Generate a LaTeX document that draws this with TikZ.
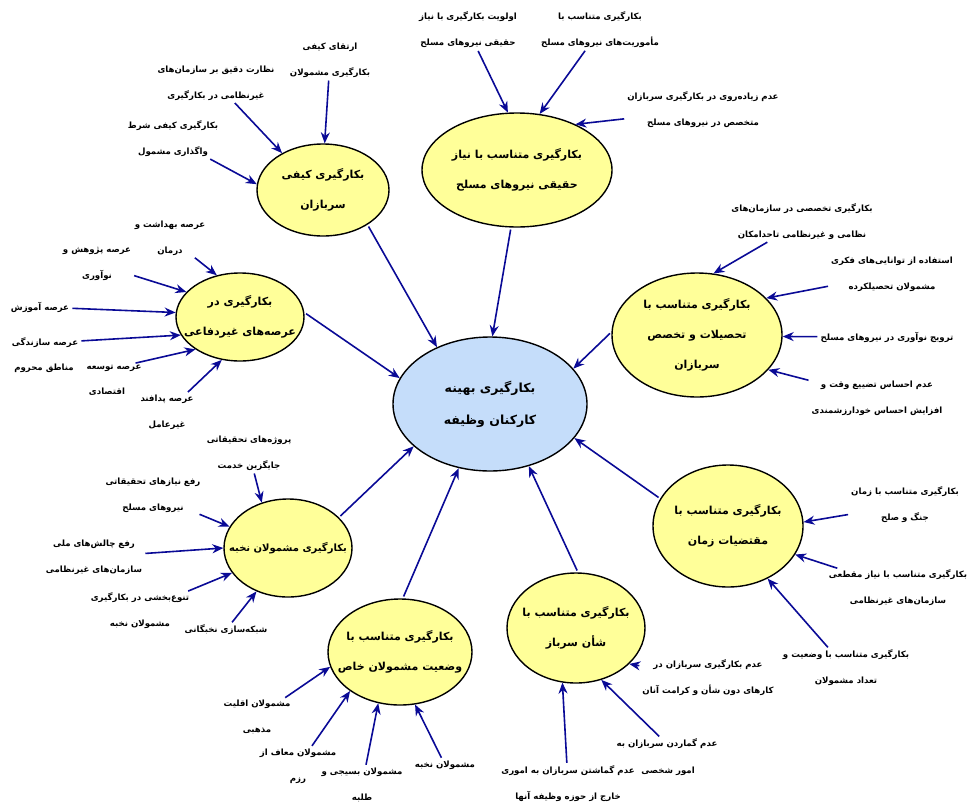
\documentclass[tikz,border=0pt]{standalone}
\usepackage{fontspec}
\usetikzlibrary{arrows.meta,shapes.geometric}
\newfontfamily\arabicfont[Script=Arabic]{DejaVu Sans}
\TeXXeTstate=1
\newcommand{\fa}[1]{\beginR #1\endR}
\definecolor{bubfill}{RGB}{255,255,153}
\definecolor{hubfill}{RGB}{197,221,250}
\definecolor{arrblue}{RGB}{10,10,150}

\begin{document}
\begin{tikzpicture}[x=1pt, y=-1pt,
		bubble/.style={ellipse, draw, line width=1.4pt, fill=bubfill, inner xsep=-25pt, inner ysep=0pt, align=center, font=\arabicfont\bfseries\fontsize{11}{30}\selectfont},
		lab/.style={align=center, inner sep=1pt, font=\arabicfont\bfseries\fontsize{8.6}{26}\selectfont},
		arr/.style={arrblue, line width=1.6pt, -{Stealth[length=11pt,width=9pt]}, shorten <=2pt}]
	\useasboundingbox (0,0) rectangle (973,811);
	% hub and its eight bubbles
	\node[bubble, fill=hubfill, minimum width=194pt, minimum height=134pt, font=\arabicfont\bfseries\fontsize{12.5}{32}\selectfont] (hub) at (490,404) {\fa{بکارگیری بهینه}\\\fa{کارکنان وظیفه}};
	\node[bubble, minimum width=132pt, minimum height=92pt] (kifi) at (323,190) {\fa{بکارگیری کیفی}\\\fa{سربازان}};
	\node[bubble, minimum width=190pt, minimum height=114pt] (niaz) at (517,170) {\fa{بکارگیری متناسب با نیاز}\\\fa{حقیقی نیروهای مسلح}};
	\node[bubble, minimum width=170pt, minimum height=124pt] (takhas) at (697,335) {\fa{بکارگیری متناسب با}\\\fa{تحصیلات و تخصص}\\\fa{سربازان}};
	\node[bubble, minimum width=128pt, minimum height=88pt] (gheyr) at (240,317) {\fa{بکارگیری در}\\\fa{عرصه‌های غیردفاعی}};
	\node[bubble, minimum width=128pt, minimum height=98pt, font=\arabicfont\bfseries\fontsize{10}{30}\selectfont] (nokhbe) at (288,548) {\fa{بکارگیری مشمولان نخبه}};
	\node[bubble, minimum width=144pt, minimum height=106pt] (khas) at (400,652) {\fa{بکارگیری متناسب با}\\\fa{وضعیت مشمولان خاص}};
	\node[bubble, minimum width=138pt, minimum height=110pt] (shaan) at (576,628) {\fa{بکارگیری متناسب با}\\\fa{شأن سرباز}};
	\node[bubble, minimum width=150pt, minimum height=122pt] (zaman) at (728,526) {\fa{بکارگیری متناسب با}\\\fa{مقتضیات زمان}};

	\draw[arr] (kifi.322) -- (hub.133);
	\draw[arr] (niaz.264) -- (hub.88);
	\draw[arr] (takhas.178) -- (hub.23);
	\draw[arr] (gheyr.4) -- (hub.164);
	\draw[arr] (nokhbe.31) -- (hub.209);
	\draw[arr] (khas.87) -- (hub.244);
	\draw[arr] (shaan.88) -- (hub.302);
	\draw[arr] (zaman.158) -- (hub.338);

	% kifi
	\node[lab] (kifi1) at (330,60) {\fa{ارتقای کیفی}\\\fa{بکارگیری مشمولان}};
	\node[lab] (kifi2) at (216,83) {\fa{نظارت دقیق بر سازمان‌های}\\\fa{غیرنظامی در بکارگیری}};
	\node[lab] (kifi3) at (173,139) {\fa{بکارگیری کیفی شرط}\\\fa{واگذاری مشمول}};
	\draw[arr] (kifi1) -- (kifi.88);
	\draw[arr] (kifi2) -- (kifi.138);
	\draw[arr] (kifi3) -- (kifi.175);

	% niaz
	\node[lab] (niaz1) at (468,30) {\fa{اولویت بکارگیری با نیاز}\\\fa{حقیقی نیروهای مسلح}};
	\node[lab] (niaz2) at (600,30) {\fa{بکارگیری متناسب با}\\\fa{مأموریت‌های نیروهای مسلح}};
	\node[lab] (niaz3) at (703,110) {\fa{عدم زیاده‌روی در بکارگیری سربازان}\\\fa{متخصص در نیروهای مسلح}};
	\draw[arr] (niaz1) -- (niaz.99);
	\draw[arr] (niaz2) -- (niaz.68);
	\draw[arr] (niaz3) -- (niaz.38);

	% takhas
	\node[lab] (takhas1) at (802,222) {\fa{بکارگیری تخصصی در سازمان‌های}\\\fa{نظامی و غیرنظامی تاحدامکان}};
	\node[lab] (takhas2) at (892,274) {\fa{استفاده از توانایی‌های فکری}\\\fa{مشمولان تحصیلکرده}};
	\node[lab] (takhas3) at (887,337) {\fa{ترویج نوآوری در نیروهای مسلح}};
	\node[lab] (takhas4) at (877,398) {\fa{عدم احساس تضییع وقت و}\\\fa{افزایش احساس خودارزشمندی}};
	\draw[arr] (takhas1) -- (takhas.75);
	\draw[arr] (takhas2) -- (takhas.28);
	\draw[arr] (takhas3) -- (takhas.-1);
	\draw[arr] (takhas4) -- (takhas.-26);

	% gheyr
	\node[lab] (gheyr1) at (170,238) {\fa{عرصه بهداشت و}\\\fa{درمان}};
	\node[lab] (gheyr2) at (97,264) {\fa{عرصه پژوهش و}\\\fa{نوآوری}};
	\node[lab] (gheyr3) at (40,307) {\fa{عرصه آموزش}};
	\node[lab] (gheyr4) at (45,343) {\fa{عرصه سازندگی}};
	\node[lab] (gheyr5) at (114,368) {\fa{عرصه توسعه}};
	\node[lab] (gheyr6) at (44,368) {\fa{مناطق محروم}};
	\node[lab] (gheyr7) at (107,392) {\fa{اقتصادی}};
	\node[lab] (gheyr8) at (167,412) {\fa{عرصه پدافند}\\\fa{غیرعامل}};
	\draw[arr] (gheyr1) -- (gheyr.119);
	\draw[arr] (gheyr2) -- (gheyr.155);
	\draw[arr] (gheyr3) -- (gheyr.176);
	\draw[arr] (gheyr4) -- (gheyr.197);
	\draw[arr] (gheyr5) -- (gheyr.216);
	\draw[arr] (gheyr8) -- (gheyr.247);

	% nokhbe
	\node[lab] (nokhbe1) at (249,453) {\fa{پروژه‌های تحقیقاتی}\\\fa{جایگزین خدمت}};
	\node[lab] (nokhbe2) at (153,495) {\fa{رفع نیازهای تحقیقاتی}\\\fa{نیروهای مسلح}};
	\node[lab] (nokhbe3) at (94,557) {\fa{رفع چالش‌های ملی}\\\fa{سازمان‌های غیرنظامی}};
	\node[lab] (nokhbe4) at (140,611) {\fa{تنوع‌بخشی در بکارگیری}\\\fa{مشمولان نخبه}};
	\node[lab] (nokhbe5) at (226,630) {\fa{شبکه‌سازی نخبگانی}};
	\draw[arr] (nokhbe1) -- (nokhbe.120);
	\draw[arr] (nokhbe2) -- (nokhbe.160);
	\draw[arr] (nokhbe3) -- (nokhbe.180);
	\draw[arr] (nokhbe4) -- (nokhbe.204);
	\draw[arr] (nokhbe5) -- (nokhbe.234);

	% khas
	\node[lab] (khas1) at (257,717) {\fa{مشمولان اقلیت}\\\fa{مذهبی}};
	\node[lab] (khas2) at (298,766) {\fa{مشمولان معاف از}\\\fa{رزم}};
	\node[lab] (khas3) at (362,785) {\fa{مشمولان بسیجی و}\\\fa{طلبه}};
	\node[lab] (khas4) at (445,765) {\fa{مشمولان نخبه}};
	\draw[arr] (khas1) -- (khas.192);
	\draw[arr] (khas2) -- (khas.218);
	\draw[arr] (khas3) -- (khas.247);
	\draw[arr] (khas4) -- (khas.286);

	% shaan
	\node[lab] (shaan1) at (708,678) {\fa{عدم بکارگیری سربازان در}\\\fa{کارهای دون شأن و کرامت آنان}};
	\node[lab] (shaan2) at (667,744) {\fa{عدم گماردن سربازان به}};
	\node[lab] (shaan3) at (668,771) {\fa{امور شخصی}};
	\node[lab] (shaan4) at (568,784) {\fa{عدم گماشتن سربازان به اموری}\\\fa{خارج از حوزه وظیفه آنها}};
	\draw[arr] (shaan1) -- (shaan.-34);
	\draw[arr] (shaan2) -- (shaan.-64);
	\draw[arr] (shaan4) -- (shaan.256);

	% zaman
	\node[lab] (zaman1) at (905,505) {\fa{بکارگیری متناسب با زمان}\\\fa{جنگ و صلح}};
	\node[lab] (zaman2) at (898,588) {\fa{بکارگیری متناسب با نیاز مقطعی}\\\fa{سازمان‌های غیرنظامی}};
	\node[lab] (zaman3) at (846,668) {\fa{بکارگیری متناسب با وضعیت و}\\\fa{تعداد مشمولان}};
	\draw[arr] (zaman1) -- (zaman.3);
	\draw[arr] (zaman2) -- (zaman.-23);
	\draw[arr] (zaman3) -- (zaman.-53);
\end{tikzpicture}
\end{document}
